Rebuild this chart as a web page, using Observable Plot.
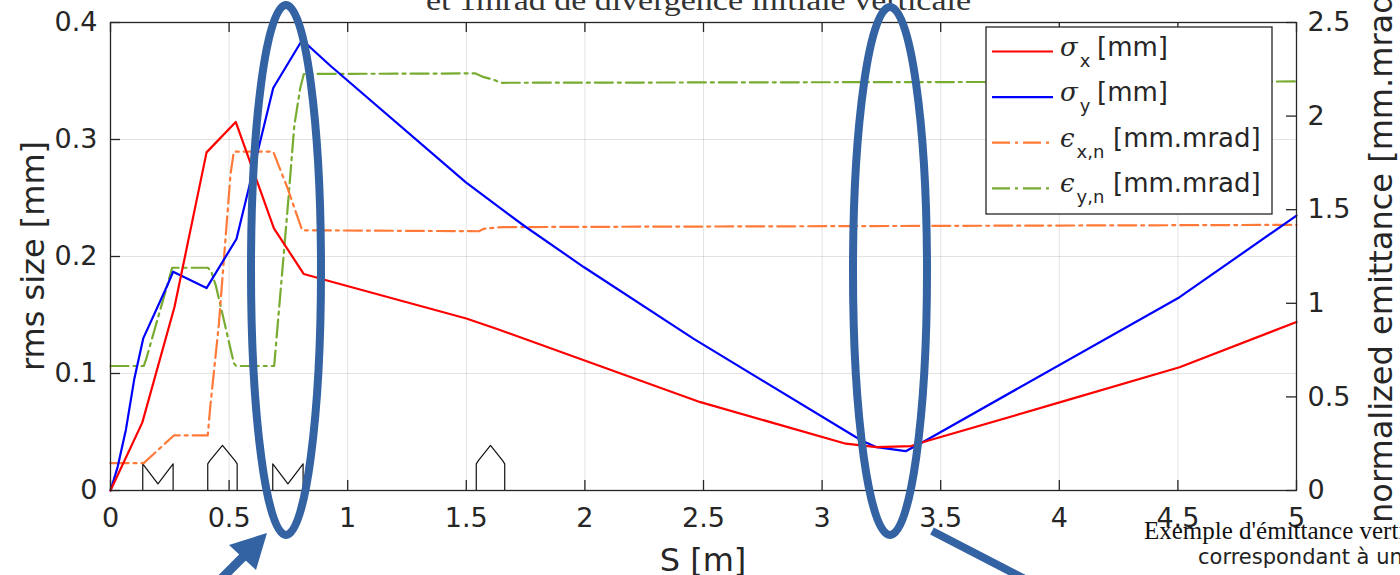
<!DOCTYPE html>
<html><head><meta charset="utf-8">
<script src="https://cdn.jsdelivr.net/npm/d3@7"></script>
<script src="https://cdn.jsdelivr.net/npm/@observablehq/plot@0.6"></script>
<style>
html,body{margin:0;padding:0;background:#fff;overflow:hidden}
#chart{position:relative;width:1400px;height:575px}
#chart svg{display:block}
</style>
</head><body><div id="chart"></div>
<script>
// ---------- data ----------
const xTicks = [0, 0.5, 1, 1.5, 2, 2.5, 3, 3.5, 4, 4.5, 5];
const leftTicks = [0, 0.1, 0.2, 0.3, 0.4];
const rightTicks = [0, 0.5, 1, 1.5, 2, 2.5];

// sigma_x [mm] : [S (m), value]
const sigmaX = [[0,0],[0.134,0.058],[0.27,0.157],[0.405,0.289],[0.528,0.315],[0.689,0.224],[0.815,0.185],[0.94,0.178],[1.5,0.147],[1.63,0.138],[2.487,0.0755],[3.10,0.040],[3.23,0.037],[3.376,0.038],[3.42,0.041],[4.005,0.0755],[4.507,0.1054],[5.0,0.144]];
// sigma_y [mm]
const sigmaY = [[0,0],[0.03,0.02],[0.065,0.052],[0.1,0.095],[0.138,0.13],[0.239,0.175],[0.264,0.187],[0.405,0.173],[0.531,0.215],[0.686,0.344],[0.808,0.385],[0.927,0.363],[1.497,0.2635],[1.742,0.2265],[1.995,0.191],[2.459,0.1296],[3.166,0.0427],[3.23,0.037],[3.352,0.0336],[3.424,0.0413],[4.507,0.1652],[5.0,0.235]];
// eps_x,n [mm.mrad] (right axis)
const epsX = [[0,0.146],[0.14,0.146],[0.267,0.294],[0.41,0.294],[0.42,0.44],[0.457,0.89],[0.471,1.12],[0.506,1.69],[0.52,1.81],[0.686,1.81],[0.745,1.62],[0.808,1.39],[1.553,1.385],[1.574,1.398],[1.651,1.407],[5,1.419]];
// eps_y,n [mm.mrad] (right axis)
const epsY = [[0,0.665],[0.14,0.665],[0.15,0.70],[0.239,1.095],[0.26,1.19],[0.41,1.19],[0.425,1.17],[0.445,1.09],[0.52,0.68],[0.53,0.665],[0.69,0.665],[0.745,1.48],[0.775,1.95],[0.80,2.15],[0.815,2.225],[1.539,2.228],[1.574,2.208],[1.616,2.194],[1.644,2.178],[5,2.185]];

// beam-line elements drawn along the axis: [start S, end S]
const quadElems = [[0.136,0.264],[0.684,0.812]];
const dipoleElems = [[0.41,0.534],[1.542,1.662]];

const legendLabels = [
  {sym:"σ", sub:"x", unit:"[mm]"},
  {sym:"σ", sub:"y", unit:"[mm]"},
  {sym:"ϵ", sub:"x,n", unit:"[mm.mrad]"},
  {sym:"ϵ", sub:"y,n", unit:"[mm.mrad]"}
];

// ---------- layout / style ----------
const W = 1400, H = 575, mL = 110, mR = 104, mT = 22, mB = 85;
const X_MAX = 5, Y_MAX = 0.4, R_MAX = 2.5;
const toLeft = Y_MAX / R_MAX;          // right-axis units -> left-axis units
const ink = "#262626";
const colX = "#ff0000", colY = "#0000ff", colEX = "#ff7a38", colEY = "#77ac30";
const dashDot = "18,5,3,5";
const tickLenX = X_MAX * 10 / (W - mL - mR);
const tickLenY = Y_MAX * 10 / (H - mT - mB);

const pts = (arr, k = 1) => arr.map(([s, v]) => ({s, v: v * k}));

// element outline shapes
const elemPts = [];
quadElems.forEach(([a, b], i) => {
  const m = (a + b) / 2;
  [[a,0],[a,0.0228],[m,0.0057],[b,0.0228],[b,0]].forEach(([s, v]) => elemPts.push({s, v, id: "q" + i}));
});
dipoleElems.forEach(([a, b], i) => {
  const m = (a + b) / 2, w = b - a;
  [[a,0],[a,0.0228],[a+0.08*w,0.0258],[m,0.0385],[b-0.08*w,0.0258],[b,0.0228],[b,0]].forEach(([s, v]) => elemPts.push({s, v, id: "d" + i}));
});

const lineOpts = {x: "s", y: "v", strokeWidth: 2.2};

const chart = Plot.plot({
  width: W, height: H,
  marginLeft: mL, marginRight: mR, marginTop: mT, marginBottom: mB,
  style: {fontFamily: "DejaVu Sans", fontSize: "27px", color: ink, background: "#fff"},
  x: {domain: [0, X_MAX], label: null},
  y: {domain: [0, Y_MAX], label: null},
  marks: [
    Plot.gridX(xTicks, {stroke: ink, strokeOpacity: 0.13, strokeWidth: 1}),
    Plot.gridY(leftTicks, {stroke: ink, strokeOpacity: 0.13, strokeWidth: 1}),
    Plot.line(elemPts, {x: "s", y: "v", z: "id", stroke: "#111", strokeWidth: 1.2}),
    Plot.line(pts(epsY, toLeft), {...lineOpts, stroke: colEY, strokeDasharray: dashDot}),
    Plot.line(pts(epsX, toLeft), {...lineOpts, stroke: colEX, strokeDasharray: dashDot}),
    Plot.line(pts(sigmaY), {...lineOpts, stroke: colY}),
    Plot.line(pts(sigmaX), {...lineOpts, stroke: colX}),
    Plot.frame({stroke: ink, strokeWidth: 1.3}),
    // inward tick marks
    Plot.ruleX(xTicks, {x: d => d, y1: 0, y2: tickLenY, stroke: ink, strokeWidth: 1.3}),
    Plot.ruleX(xTicks, {x: d => d, y1: Y_MAX - tickLenY, y2: Y_MAX, stroke: ink, strokeWidth: 1.3}),
    Plot.ruleY(leftTicks, {y: d => d, x1: 0, x2: tickLenX, stroke: ink, strokeWidth: 1.3}),
    Plot.ruleY(rightTicks, {y: d => d * toLeft, x1: X_MAX - tickLenX, x2: X_MAX, stroke: ink, strokeWidth: 1.3}),
    Plot.axisX(xTicks, {tickSize: 0, tickPadding: 17, label: null, tickFormat: d => String(d)}),
    Plot.axisY(leftTicks, {anchor: "left", tickSize: 0, tickPadding: 13, label: null, tickFormat: d => String(d)}),
    Plot.axisY(rightTicks.map(d => d * toLeft), {anchor: "right", tickSize: 0, tickPadding: 11, label: null,
      tickFormat: d => String(Math.round(d / toLeft * 100) / 100)})
  ]
});
document.getElementById("chart").appendChild(chart);

// ---------- overlay: labels, legend, annotations ----------
const svg = d3.select(chart);
const sx = chart.scale("x"), sy = chart.scale("y");
const g = svg.append("g").attr("text-anchor", "start").attr("font-family", "DejaVu Sans");
const midY = (sy.apply(0) + sy.apply(Y_MAX)) / 2;

// surrounding document text (cropped page), under the figure labels
g.append("text").attr("x", 426).attr("y", 10).attr("font-family", "Liberation Serif").attr("font-size", 30)
  .attr("fill", "#333").attr("textLength", 545).attr("lengthAdjust", "spacingAndGlyphs")
  .text("et 1mrad de divergence initiale verticale");
g.append("text").attr("x", 1144).attr("y", 539).attr("font-family", "Liberation Serif").attr("font-size", 25)
  .attr("fill", "#111").text("Exemple d'émittance verticale");
g.append("text").attr("x", 1198).attr("y", 564).attr("font-family", "DejaVu Sans").attr("font-size", 21)
  .attr("fill", "#222").text("correspondant à une");

// axis titles
g.append("text").attr("x", (sx.apply(0) + sx.apply(X_MAX)) / 2).attr("y", 571)
  .attr("text-anchor", "middle").attr("font-size", 32).attr("fill", ink).text("S [m]");
g.append("text").attr("transform", `translate(44,${midY}) rotate(-90)`)
  .attr("text-anchor", "middle").attr("font-size", 32).attr("fill", ink).text("rms size [mm]");
g.append("text").attr("transform", `translate(1392,${midY - 4}) rotate(-90)`)
  .attr("text-anchor", "middle").attr("font-size", 32).attr("fill", ink).text("normalized emittance [mm.mrad]");

// legend
const lg = g.append("g");
lg.append("rect").attr("x", 986).attr("y", 27).attr("width", 286).attr("height", 187)
  .attr("fill", "#fff").attr("stroke", ink).attr("stroke-width", 1.3);
const legendStyles = [[colX, null], [colY, null], [colEX, dashDot], [colEY, dashDot]];
legendLabels.forEach((L, i) => {
  const cy = 51.5 + i * 45.6;
  lg.append("line").attr("x1", 992).attr("x2", 1053).attr("y1", cy).attr("y2", cy)
    .attr("stroke", legendStyles[i][0]).attr("stroke-width", 2.2)
    .attr("stroke-dasharray", legendStyles[i][1]);
  const t = lg.append("text").attr("x", 1060).attr("y", cy + 4).attr("font-size", 26).attr("fill", ink);
  t.append("tspan").attr("font-style", "italic").attr("font-family", "DejaVu Serif").text(L.sym);
  t.append("tspan").attr("dy", 11).attr("font-size", 18).attr("dx", 2).text(L.sub);
  t.append("tspan").attr("dy", -11).attr("x", i < 2 ? 1097 : 1113).text(L.unit);
});

// blue highlight ellipses and arrows
const hl = "#3463a3";
g.append("ellipse").attr("cx", 286).attr("cy", 270).attr("rx", 35).attr("ry", 265)
  .attr("fill", "none").attr("stroke", hl).attr("stroke-width", 8);
g.append("ellipse").attr("cx", 890).attr("cy", 271).attr("rx", 37).attr("ry", 264)
  .attr("fill", "none").attr("stroke", hl).attr("stroke-width", 8);
g.append("line").attr("x1", 244).attr("y1", 556).attr("x2", 190).attr("y2", 610)
  .attr("stroke", hl).attr("stroke-width", 9);
g.append("polygon").attr("points", "229,545 256,570 267,533").attr("fill", hl);
g.append("line").attr("x1", 932).attr("y1", 531).attr("x2", 1050).attr("y2", 592)
  .attr("stroke", hl).attr("stroke-width", 8);
</script>
</body></html>
